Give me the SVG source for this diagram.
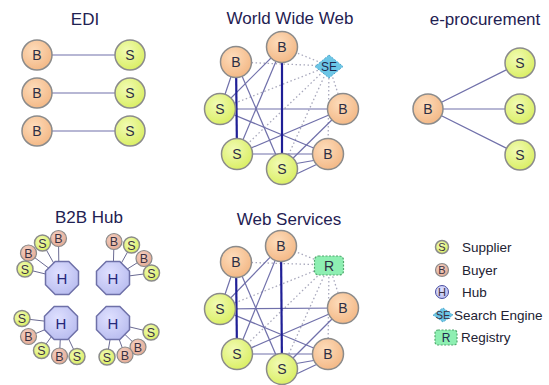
<svg xmlns="http://www.w3.org/2000/svg" width="549" height="385" viewBox="0 0 549 385">
  <defs>
    <radialGradient id="gB" cx="40%" cy="35%" r="70%">
      <stop offset="0" stop-color="#fddcbb"/>
      <stop offset="1" stop-color="#f3b784"/>
    </radialGradient>
    <radialGradient id="gS" cx="40%" cy="35%" r="70%">
      <stop offset="0" stop-color="#f1fbb4"/>
      <stop offset="1" stop-color="#d9ee60"/>
    </radialGradient>
    <radialGradient id="gBs" cx="40%" cy="35%" r="70%">
      <stop offset="0" stop-color="#f6d2c4"/>
      <stop offset="1" stop-color="#e2a993"/>
    </radialGradient>
    <radialGradient id="gH" cx="40%" cy="35%" r="75%">
      <stop offset="0" stop-color="#dfe0ff"/>
      <stop offset="1" stop-color="#b6baee"/>
    </radialGradient>
    <polygon id="oct" points="16.5,6.8 6.8,16.5 -6.8,16.5 -16.5,6.8 -16.5,-6.8 -6.8,-16.5 6.8,-16.5 16.5,-6.8"/>
    <style>
      text { font-family: "Liberation Sans", Arial, sans-serif; }
      .title { font-size: 17px; fill: #1f2152; text-anchor: middle; }
      .b { fill: url(#gB); stroke: #8b8b8b; stroke-width: 1.5; }
      .s { fill: url(#gS); stroke: #8b8b8b; stroke-width: 1.5; }
      .bs { fill: url(#gBs); stroke: #8b8b8b; stroke-width: 1.2; }
      .h { fill: url(#gH); stroke: #6e70a8; stroke-width: 1.5; }
      .lbl { font-size: 14px; fill: #2e2e44; text-anchor: middle; }
      .sl { font-size: 12.5px; fill: #3a3040; text-anchor: middle; }
      .hl { font-size: 15px; fill: #24287a; text-anchor: middle; }
      .edge { stroke: #7070aa; stroke-width: 1.2; fill: none; }
      .thick { stroke: #1f1f96; stroke-width: 2.2; fill: none; }
      .dot { stroke: #a8a8bc; stroke-width: 1.3; stroke-dasharray: 1.5 2.5; fill: none; }
      .spoke { stroke: #6a6a92; stroke-width: 1; }
      .se { fill: #6cc6e6; stroke: #4ea6cc; stroke-width: 1; stroke-dasharray: 2 1.5; }
      .reg { fill: #8eefb2; stroke: #52a86e; stroke-width: 1.2; stroke-dasharray: 2 1.5; }
      .ico { font-size: 12px; fill: #1f2a50; text-anchor: middle; }
      .li { font-size: 11px; fill: #3a3040; text-anchor: middle; }
      .leg { font-size: 13.5px; fill: #222233; }
    </style>
  </defs>

  <rect width="549" height="385" fill="#ffffff"/>

  <!-- section titles -->
  <g id="titles">
    <text class="title" x="85" y="25">EDI</text>
    <text class="title" x="290" y="24">World Wide Web</text>
    <text class="title" x="485" y="25">e-procurement</text>
    <text class="title" x="89" y="223">B2B Hub</text>
    <text class="title" x="289" y="225">Web Services</text>
  </g>

  <!-- all connectors -->
  <g id="connectors">
    <!-- EDI: one line per buyer/supplier pair -->
    <line class="edge" x1="37" y1="55" x2="130" y2="55"/>
    <line class="edge" x1="37" y1="93" x2="130" y2="93"/>
    <line class="edge" x1="37" y1="131" x2="130" y2="131"/>

    <!-- e-procurement: one buyer to three suppliers -->
    <line class="edge" x1="428" y1="109" x2="520" y2="63"/>
    <line class="edge" x1="428" y1="109" x2="520" y2="109"/>
    <line class="edge" x1="428" y1="109" x2="520" y2="155"/>

    <!-- World Wide Web: search engine links (dotted) -->
    <g class="dot">
      <line x1="329" y1="66" x2="282" y2="47"/>
      <line x1="329" y1="66" x2="236" y2="62"/>
      <line x1="329" y1="66" x2="220" y2="109"/>
      <line x1="329" y1="66" x2="237" y2="154"/>
      <line x1="329" y1="66" x2="282" y2="169"/>
      <line x1="329" y1="66" x2="343" y2="109"/>
      <line x1="329" y1="66" x2="328" y2="154"/>
    </g>
    <!-- World Wide Web: trading links -->
    <g class="edge">
      <line x1="220" y1="109" x2="343" y2="109"/>
      <line x1="220" y1="109" x2="328" y2="154"/>
      <line x1="220" y1="109" x2="282" y2="47"/>
      <line x1="220" y1="109" x2="236" y2="62"/>
      <line x1="237" y1="154" x2="282" y2="47"/>
      <line x1="237" y1="154" x2="343" y2="109"/>
      <line x1="237" y1="154" x2="328" y2="154"/>
      <line x1="282" y1="169" x2="236" y2="62"/>
      <line x1="282" y1="169" x2="343" y2="109"/>
      <line x1="282" y1="166" x2="328" y2="158"/>
      <line x1="288" y1="178" x2="326" y2="160"/>
    </g>
    <line class="thick" x1="236" y1="62" x2="237" y2="154"/>
    <line class="thick" x1="282" y1="47" x2="282" y2="169"/>

    <!-- Web Services: registry links (dotted) -->
    <g class="dot">
      <line x1="329" y1="265" x2="281" y2="246"/>
      <line x1="329" y1="265" x2="236" y2="262"/>
      <line x1="329" y1="265" x2="220" y2="309"/>
      <line x1="329" y1="265" x2="237" y2="354"/>
      <line x1="329" y1="265" x2="282" y2="369"/>
      <line x1="329" y1="265" x2="343" y2="308"/>
      <line x1="329" y1="265" x2="328" y2="354"/>
    </g>
    <!-- Web Services: trading links -->
    <g class="edge">
      <line x1="220" y1="309" x2="343" y2="308"/>
      <line x1="220" y1="309" x2="328" y2="354"/>
      <line x1="220" y1="309" x2="281" y2="246"/>
      <line x1="220" y1="309" x2="236" y2="262"/>
      <line x1="237" y1="354" x2="281" y2="246"/>
      <line x1="237" y1="354" x2="343" y2="308"/>
      <line x1="237" y1="354" x2="328" y2="354"/>
      <line x1="282" y1="369" x2="236" y2="262"/>
      <line x1="282" y1="369" x2="343" y2="308"/>
      <line x1="282" y1="366" x2="328" y2="358"/>
      <line x1="288" y1="378" x2="326" y2="360"/>
    </g>
    <line class="thick" x1="236" y1="262" x2="237" y2="354"/>
    <line class="thick" x1="281" y1="246" x2="282" y2="369"/>

    <!-- B2B Hub spokes -->
    <g class="spoke">
      <line x1="62" y1="278" x2="25" y2="269"/>
      <line x1="62" y1="278" x2="28.5" y2="253"/>
      <line x1="62" y1="278" x2="42.5" y2="243"/>
      <line x1="59" y1="278" x2="58.5" y2="238.5"/>

      <line x1="113" y1="278" x2="114" y2="241.5"/>
      <line x1="113" y1="278" x2="131.5" y2="245"/>
      <line x1="113" y1="278" x2="144" y2="258.5"/>
      <line x1="113" y1="278" x2="151.5" y2="273"/>

      <line x1="61" y1="323" x2="22" y2="318.5"/>
      <line x1="61" y1="323" x2="28.5" y2="336.5"/>
      <line x1="61" y1="323" x2="41.5" y2="350.5"/>
      <line x1="61" y1="323" x2="59.5" y2="356"/>
      <line x1="61" y1="323" x2="77" y2="356.5"/>

      <line x1="113" y1="323" x2="151" y2="332"/>
      <line x1="113" y1="323" x2="138" y2="347"/>
      <line x1="113" y1="323" x2="125" y2="355"/>
      <line x1="113" y1="323" x2="107" y2="357"/>
    </g>
  </g>

  <!-- EDI nodes -->
  <g id="edi-b1"><circle class="b" cx="37" cy="55" r="15"/><text class="lbl" x="37" y="60">B</text></g>
  <g id="edi-s1"><circle class="s" cx="130" cy="55" r="15"/><text class="lbl" x="130" y="60">S</text></g>
  <g id="edi-b2"><circle class="b" cx="37" cy="93" r="15"/><text class="lbl" x="37" y="98">B</text></g>
  <g id="edi-s2"><circle class="s" cx="130" cy="93" r="15"/><text class="lbl" x="130" y="98">S</text></g>
  <g id="edi-b3"><circle class="b" cx="37" cy="131" r="15"/><text class="lbl" x="37" y="136">B</text></g>
  <g id="edi-s3"><circle class="s" cx="130" cy="131" r="15"/><text class="lbl" x="130" y="136">S</text></g>

  <!-- e-procurement nodes -->
  <g id="ep-b"><circle class="b" cx="428" cy="109" r="15"/><text class="lbl" x="428" y="114">B</text></g>
  <g id="ep-s1"><circle class="s" cx="520" cy="63" r="15"/><text class="lbl" x="520" y="68">S</text></g>
  <g id="ep-s2"><circle class="s" cx="520" cy="109" r="15"/><text class="lbl" x="520" y="114">S</text></g>
  <g id="ep-s3"><circle class="s" cx="520" cy="155" r="15"/><text class="lbl" x="520" y="160">S</text></g>

  <!-- World Wide Web nodes -->
  <g id="www-b-top"><circle class="b" cx="282" cy="47" r="15.5"/><text class="lbl" x="282" y="52">B</text></g>
  <g id="www-b-left"><circle class="b" cx="236" cy="62" r="15.5"/><text class="lbl" x="236" y="67">B</text></g>
  <g id="www-se"><polygon class="se" points="329,55 343,66.5 329,78 315,66.5"/><text class="ico" x="329" y="71">SE</text></g>
  <g id="www-s-left"><circle class="s" cx="220" cy="109" r="15.5"/><text class="lbl" x="220" y="114">S</text></g>
  <g id="www-b-right"><circle class="b" cx="343" cy="109" r="15.5"/><text class="lbl" x="343" y="114">B</text></g>
  <g id="www-s-lower"><circle class="s" cx="237" cy="154" r="15.5"/><text class="lbl" x="237" y="159">S</text></g>
  <g id="www-b-lower"><circle class="b" cx="328" cy="154" r="15.5"/><text class="lbl" x="328" y="159">B</text></g>
  <g id="www-s-bottom"><circle class="s" cx="282" cy="169" r="15.5"/><text class="lbl" x="282" y="174">S</text></g>

  <!-- Web Services nodes -->
  <g id="ws-b-top"><circle class="b" cx="281" cy="246" r="15.5"/><text class="lbl" x="281" y="251">B</text></g>
  <g id="ws-b-left"><circle class="b" cx="236" cy="262" r="15.5"/><text class="lbl" x="236" y="267">B</text></g>
  <g id="ws-registry"><rect class="reg" x="314.5" y="256" width="29" height="19" rx="4"/><text class="lbl" x="329" y="270.5">R</text></g>
  <g id="ws-s-left"><circle class="s" cx="220" cy="309" r="15.5"/><text class="lbl" x="220" y="314">S</text></g>
  <g id="ws-b-right"><circle class="b" cx="343" cy="308" r="15.5"/><text class="lbl" x="343" y="313">B</text></g>
  <g id="ws-s-lower"><circle class="s" cx="237" cy="354" r="15.5"/><text class="lbl" x="237" y="359">S</text></g>
  <g id="ws-b-lower"><circle class="b" cx="328" cy="354" r="15.5"/><text class="lbl" x="328" y="359">B</text></g>
  <g id="ws-s-bottom"><circle class="s" cx="282" cy="369" r="15.5"/><text class="lbl" x="282" y="374">S</text></g>

  <!-- B2B Hub: hubs -->
  <g id="hub-tl"><use href="#oct" class="h" x="62" y="278"/><text class="hl" x="62" y="283.5">H</text></g>
  <g id="hub-tr"><use href="#oct" class="h" x="113" y="278"/><text class="hl" x="113" y="283.5">H</text></g>
  <g id="hub-bl"><use href="#oct" class="h" x="61" y="323"/><text class="hl" x="61" y="328.5">H</text></g>
  <g id="hub-br"><use href="#oct" class="h" x="113" y="323"/><text class="hl" x="113" y="328.5">H</text></g>

  <!-- B2B Hub: members -->
  <g id="tl-s1"><circle class="s" cx="25" cy="269" r="8"/><text class="sl" x="25" y="273.5">S</text></g>
  <g id="tl-b1"><circle class="bs" cx="28.5" cy="253" r="8"/><text class="sl" x="28.5" y="257.5">B</text></g>
  <g id="tl-s2"><circle class="s" cx="42.5" cy="243" r="8"/><text class="sl" x="42.5" y="247.5">S</text></g>
  <g id="tl-b2"><circle class="bs" cx="58.5" cy="238.5" r="8"/><text class="sl" x="58.5" y="243">B</text></g>

  <g id="tr-b1"><circle class="bs" cx="114" cy="241.5" r="8"/><text class="sl" x="114" y="246">B</text></g>
  <g id="tr-s1"><circle class="s" cx="131.5" cy="245" r="8"/><text class="sl" x="131.5" y="249.5">S</text></g>
  <g id="tr-b2"><circle class="bs" cx="144" cy="258.5" r="8"/><text class="sl" x="144" y="263">B</text></g>
  <g id="tr-s2"><circle class="s" cx="151.5" cy="273" r="8"/><text class="sl" x="151.5" y="277.5">S</text></g>

  <g id="bl-s1"><circle class="s" cx="22" cy="318.5" r="8"/><text class="sl" x="22" y="323">S</text></g>
  <g id="bl-b1"><circle class="bs" cx="28.5" cy="336.5" r="8"/><text class="sl" x="28.5" y="341">B</text></g>
  <g id="bl-s2"><circle class="s" cx="41.5" cy="350.5" r="8"/><text class="sl" x="41.5" y="355">S</text></g>
  <g id="bl-b2"><circle class="bs" cx="59.5" cy="356" r="8"/><text class="sl" x="59.5" y="360.5">B</text></g>
  <g id="bl-s3"><circle class="s" cx="77" cy="356.5" r="8"/><text class="sl" x="77" y="361">S</text></g>

  <g id="br-s1"><circle class="s" cx="151" cy="332" r="8"/><text class="sl" x="151" y="336.5">S</text></g>
  <g id="br-b1"><circle class="bs" cx="138" cy="347" r="8"/><text class="sl" x="138" y="351.5">B</text></g>
  <g id="br-b2"><circle class="bs" cx="125" cy="355" r="8"/><text class="sl" x="125" y="359.5">B</text></g>
  <g id="br-s2"><circle class="s" cx="107" cy="357" r="8"/><text class="sl" x="107" y="361.5">S</text></g>

  <!-- legend -->
  <g id="legend">
    <g id="leg-supplier">
      <circle class="s" cx="442" cy="247" r="6.5" stroke-width="1"/>
      <text class="li" x="442" y="251">S</text>
      <text class="leg" x="462" y="252">Supplier</text>
    </g>
    <g id="leg-buyer">
      <circle class="bs" cx="442" cy="270" r="6.5" stroke-width="1"/>
      <text class="li" x="442" y="274">B</text>
      <text class="leg" x="462" y="275">Buyer</text>
    </g>
    <g id="leg-hub">
      <circle cx="442" cy="292" r="6.5" fill="url(#gH)" stroke="#4a4ea0" stroke-width="1"/>
      <text class="li" x="442" y="296" fill="#24287a">H</text>
      <text class="leg" x="462" y="297">Hub</text>
    </g>
    <g id="leg-se">
      <polygon class="se" points="443,308 453,315 443,322 433,315"/>
      <text class="li" x="443" y="319" fill="#1f2a50">SE</text>
      <text class="leg" x="454" y="320">Search Engine</text>
    </g>
    <g id="leg-registry">
      <rect class="reg" x="435" y="330" width="22" height="15" rx="3"/>
      <text class="ico" x="446" y="342">R</text>
      <text class="leg" x="461" y="342">Registry</text>
    </g>
  </g>
</svg>
